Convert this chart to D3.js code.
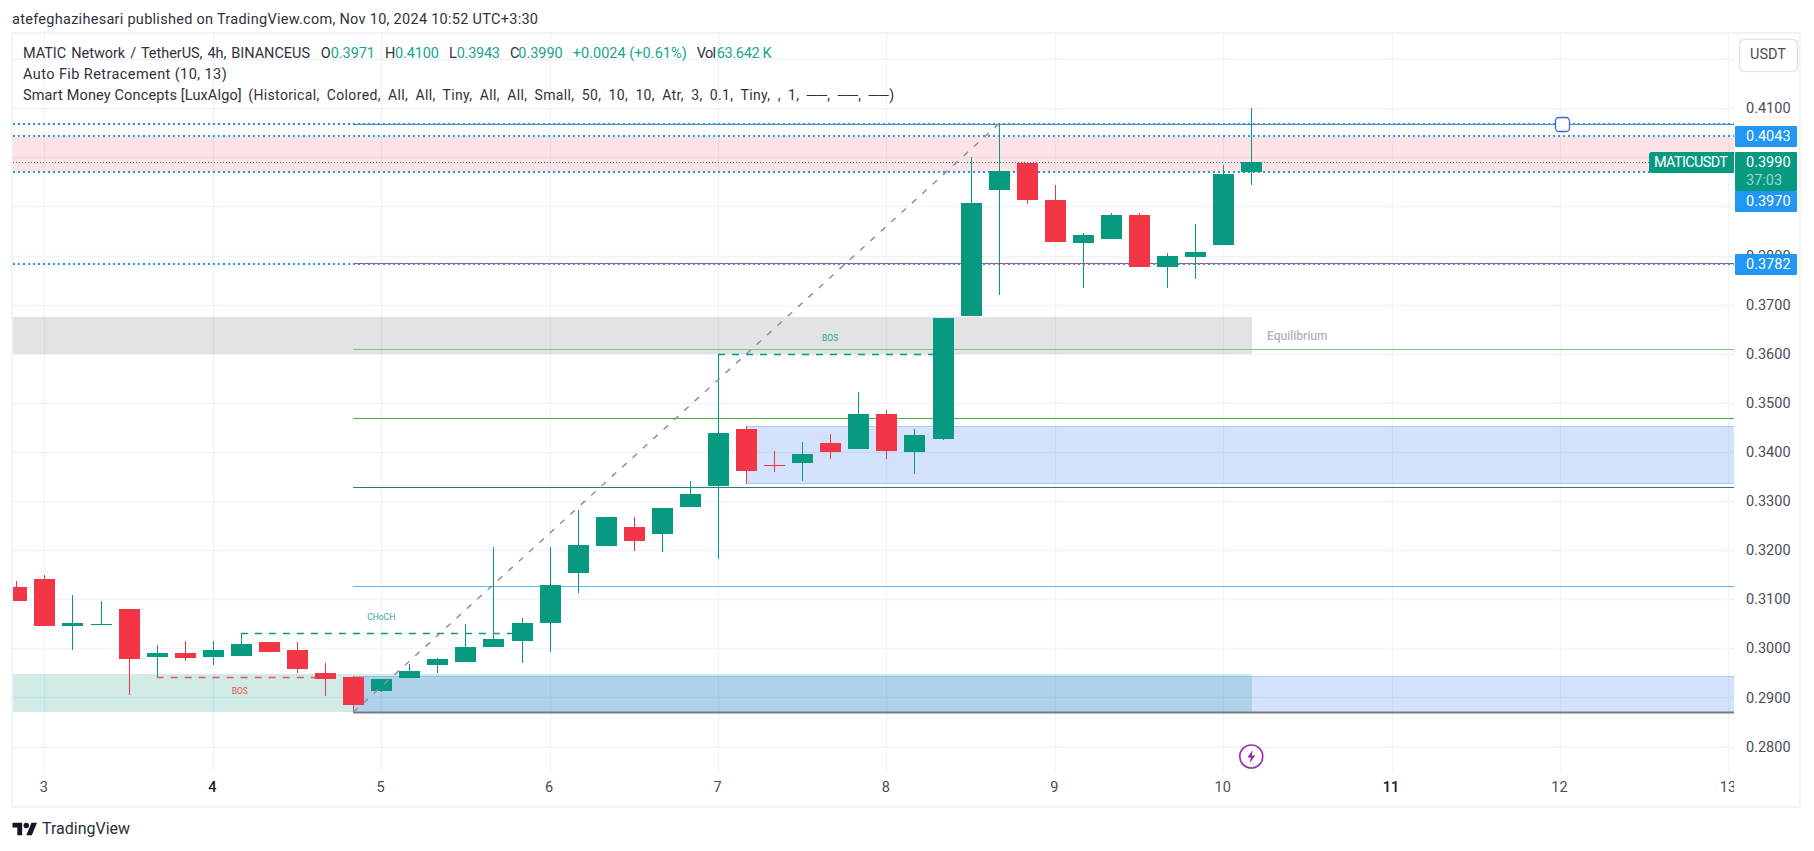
<!DOCTYPE html>
<html><head><meta charset="utf-8">
<script src="https://cdn.jsdelivr.net/npm/d3@7"></script>
<style>
html,body{margin:0;padding:0;background:#fff;overflow:hidden}
svg{display:block}
text{font-family:Roboto,sans-serif}
</style></head><body>
<svg id="c" width="1814" height="851"></svg>
<script>
// ---- DATA ----
const firstCandleDay = 3 - 1/6;
const opens  = [.31249,.31412,.30454,.30474,.30800,.29823,.29904,.29823,.29843,.30128,.29965,.29497,.29415,.29130,.29395,.29660,.29721,.30026,.30148,.30515,.31534,.32084,.32471,.32329,.32879,.33306,.34468,.33740,.33775,.34182,.34060,.34773,.33999,.34264,.36769,.39336,.39886,.39132,.38256,.38337,.38826,.37767,.37971,.38215,.3971];
const closes = [.30963,.30454,.30515,.30495,.29782,.29904,.29802,.29965,.30088,.29924,.29578,.29375,.28845,.29375,.29537,.29782,.30026,.30189,.30515,.31289,.32105,.32675,.32186,.32858,.33144,.34386,.33612,.33715,.33958,.33999,.34773,.34019,.34345,.36728,.39071,.39723,.39132,.38276,.38419,.38826,.37767,.37991,.38073,.39662,.3990];
const highs  = [.31371,.31493,.31086,.30963,.30800,.30067,.30148,.30148,.30305,.30128,.30128,.29700,.29436,.29375,.29680,.29802,.30495,.32063,.30617,.32063,.32817,.32675,.32675,.32858,.33408,.35995,.34529,.34019,.34203,.34366,.35221,.34855,.34468,.36728,.40008,.40680,.39886,.39438,.38460,.38867,.38867,.38052,.38643,.39845,.4100];
const lows   = [.30963,.30454,.29965,.30474,.29048,.29408,.29741,.29660,.29843,.29924,.29497,.29028,.28695,.29110,.29395,.29497,.29721,.30026,.29700,.29924,.31134,.32084,.31982,.31962,.32879,.31819,.33347,.33592,.33408,.33856,.34060,.33856,.33551,.34244,.36769,.37197,.39050,.38276,.37339,.38337,.37767,.37339,.37523,.38215,.3943];

const dayTicks   = [3,4,5,6,7,8,9,10,11,12,13];
const boldDays   = [4,11];
const priceTicks = [.28,.29,.30,.31,.32,.33,.34,.35,.36,.37,.38,.41];
const gridPrices = [.28,.29,.30,.31,.32,.33,.34,.35,.36,.37,.38,.39,.40,.41,.42];

const swingStartDay = 3 + 11/6;
const swingEndDay   = 3 + 34/6;
const swingLow = 0.28695, swingHigh = 0.4068;

const fibPrices  = [0.3609, 0.34685, 0.33279, 0.31263, 0.28695];
const fibTop     = 0.4068;
const lineHigh = 0.4043, lineLow = 0.3970, lineMid = 0.3782, lastPrice = 0.3990;

const zoneSupply  = [0.39702, 0.40415];
const zoneEquil   = [0.36000, 0.36749];
const zoneDemandL = [0.28702, 0.29476];
const zoneOBmid   = [0.33361, 0.34522];
const zoneOBlow   = [0.28695, 0.29436];

const structure = [
  {label:"CHoCH", price:.30305, from:3+7/6,  to:3+17/6, labelDay:5,    bear:false, labelPrice:.30617},
  {label:"BOS",   price:.29408, from:3+4/6,  to:3+10/6, labelDay:4.16, bear:true,  labelPrice:.2911},
  {label:"BOS",   price:.35995, from:3+24/6, to:3+32/6, labelDay:7.665,bear:false, labelPrice:.3630}
];

const captionText = "atefeghazihesari published on TradingView.com, Nov 10, 2024 10:52 UTC+3:30";
const legendTitle = "MATIC Network / TetherUS, 4h, BINANCEUS";
const ohlcLabels  = ["O","H","L","C"];
const ohlcValues  = ["0.3971","0.4100","0.3943","0.3990"];
const changeText  = "+0.0024 (+0.61%)";
const volLabel = "Vol", volText = "63.642 K";
const fibLegend = "Auto Fib Retracement (10, 13)";
const smcName = "Smart Money Concepts [LuxAlgo]";
const smcArgs = "(Historical, Colored, All, All, Tiny, All, All, Small, 50, 10, 10, Atr, 3, 0.1, Tiny, , 1, ──, ──, ──)";

// ---- LAYOUT ----
const GREEN="#089981", RED="#f23645", BLUE="#2196f3", GRID="#f0f3fa", TXT="#2f323c", AX="#4a4d57", VAL="#1ba48c";
const pane={l:13,r:1734,t:34,b:772};
const x=d3.scaleLinear().domain([3,13]).range([44.4,1728.4]);
const y=d3.scaleLinear().domain([.41,.28]).range([108.3,746.5]);
const svg=d3.select("#c");
svg.append("defs").append("clipPath").attr("id","pane").append("rect")
  .attr("x",pane.l).attr("y",pane.t).attr("width",pane.r-pane.l).attr("height",pane.b-pane.t);
svg.select("defs").append("clipPath").attr("id","timeClip").append("rect")
  .attr("x",pane.l).attr("y",pane.b).attr("width",pane.r-pane.l).attr("height",34);

function label(str,x0,x1,yy,fill,size,ws){
  const t=svg.append("text").attr("x",x0).attr("y",yy).attr("dominant-baseline","middle")
    .attr("font-size",size||14).attr("fill",fill).text(str);
  if(ws) t.style("word-spacing",ws+"px");
  if(x1) t.attr("textLength",x1-x0).attr("lengthAdjust","spacing");
  return t;
}

// frame
svg.append("rect").attr("x",12).attr("y",33).attr("width",1788).attr("height",774)
  .attr("fill","#fff").attr("stroke",GRID).attr("stroke-width",2);
label(captionText,12,538,20,TXT,14.5);

const g=svg.append("g").attr("clip-path","url(#pane)");
const hl=(v)=>Math.round(y(v))+.5;

// grid
g.append("g").selectAll("line").data(gridPrices).join("line")
  .attr("x1",pane.l).attr("x2",pane.r).attr("y1",hl).attr("y2",hl).attr("stroke",GRID).attr("stroke-width",1.4);
g.append("g").selectAll("line").data(dayTicks).join("line")
  .attr("x1",d=>Math.round(x(d))+.5).attr("x2",d=>Math.round(x(d))+.5).attr("y1",pane.t).attr("y2",pane.b)
  .attr("stroke",GRID).attr("stroke-width",1.4);

// zones
function zone(dayA,dayB,z,fill,stroke){
  const x0=dayA===null?pane.l:x(dayA), x1=dayB===null?pane.r:x(dayB);
  const r=g.append("rect").attr("x",Math.round(x0)).attr("width",Math.round(x1)-Math.round(x0))
    .attr("y",Math.round(y(z[1]))).attr("height",Math.round(y(z[0]))-Math.round(y(z[1]))).attr("fill",fill);
  if(stroke){r.attr("stroke",stroke).attr("stroke-width",1).attr("x",Math.round(x0)+.5).attr("y",Math.round(y(z[1]))+.5);}
}
const endDay=3+43/6+.006;
const OB="rgba(40,110,240,0.2)", OBE="rgba(40,120,240,0.3)";
zone(null,null,zoneSupply,"rgba(242,54,69,0.14)");
zone(null,endDay,zoneEquil,"rgba(120,123,134,0.21)");
zone(null,endDay,zoneDemandL,"rgba(8,153,129,0.19)");
zone(3+25/6,null,zoneOBmid,OB,OBE);
zone(swingStartDay,null,zoneOBlow,OB,OBE);

// auto-fib solid lines
const fibColors=["#81c784","#4caf50","#22806f","#64b5f6","#787b86"];
const fibWidths=[1,1.2,1.2,1.2,2];
g.append("g").selectAll("line").data(fibPrices).join("line")
  .attr("x1",x(swingStartDay)).attr("x2",pane.r).attr("y1",hl).attr("y2",hl)
  .attr("stroke",(d,i)=>fibColors[i]).attr("stroke-width",(d,i)=>fibWidths[i]);
g.append("line").attr("x1",x(swingStartDay)).attr("x2",pane.r).attr("y1",hl(fibTop)).attr("y2",hl(fibTop)).attr("stroke","#5d7fc4");
g.append("line").attr("x1",x(swingStartDay)).attr("x2",pane.r).attr("y1",hl(lineMid)-1).attr("y2",hl(lineMid)-1).attr("stroke",RED);

// dotted blue lines
const dots=[fibTop,lineHigh,lineLow,lineMid];
g.append("g").selectAll("line").data(dots).join("line")
  .attr("x1",pane.l).attr("x2",pane.r).attr("y1",d=>Math.round(y(d))).attr("y2",d=>Math.round(y(d)))
  .attr("stroke",BLUE).attr("stroke-width",2).attr("stroke-dasharray","2 3");
g.append("line").attr("x1",pane.l).attr("x2",pane.r).attr("y1",hl(lastPrice)).attr("y2",hl(lastPrice))
  .attr("stroke",GREEN).attr("stroke-width",1).attr("stroke-dasharray","1 2");

// structure dashed lines
structure.forEach(s=>{
  const c=s.bear?RED:GREEN;
  g.append("line").attr("x1",x(s.from)).attr("x2",x(s.to)).attr("y1",hl(s.price)).attr("y2",hl(s.price))
    .attr("stroke",c).attr("stroke-width",1.3).attr("stroke-dasharray","7 7").attr("opacity",s.bear?.85:1);
  g.append("text").attr("x",x(s.labelDay)).attr("y",y(s.labelPrice)).attr("text-anchor","middle")
    .attr("dominant-baseline","middle").attr("font-size",8.5).attr("fill",c).attr("opacity",.85).text(s.label);
});
g.append("text").attr("x",1267).attr("y",y(.3635)).attr("dominant-baseline","middle")
  .attr("font-size",12).attr("font-weight",500).attr("fill","#b2b5be").text("Equilibrium");

// candles
const candles=opens.map((o,i)=>({day:firstCandleDay+i/6,o,c:closes[i],h:highs[i],l:lows[i]}));
const cg=g.append("g").selectAll("g").data(candles).join("g")
  .attr("fill",d=>d.c>=d.o?GREEN:RED);
cg.append("rect").attr("x",d=>Math.round(x(d.day))).attr("width",1)
  .attr("y",d=>Math.round(y(d.h))).attr("height",d=>Math.round(y(d.l))-Math.round(y(d.h)));
cg.append("rect").attr("x",d=>Math.round(x(d.day))-10).attr("width",21)
  .attr("y",d=>Math.round(y(Math.max(d.o,d.c))))
  .attr("height",d=>Math.max(1,Math.round(y(Math.min(d.o,d.c)))-Math.round(y(Math.max(d.o,d.c)))));

// fib diagonal
g.append("line").attr("x1",x(swingStartDay)).attr("y1",y(swingLow)).attr("x2",x(swingEndDay)).attr("y2",y(swingHigh))
  .attr("stroke","#8f9199").attr("stroke-width",1.5).attr("stroke-dasharray","6 8");

// handle
g.append("rect").attr("x",Math.round(x(12))-4.5).attr("y",Math.round(y(fibTop))-6.5).attr("width",14).attr("height",14).attr("rx",3.5)
  .attr("fill","#fff").attr("stroke","#3f63d8").attr("stroke-width",1.3);

// lightning marker
const bolt=g.append("g").attr("transform",`translate(${x(3+43/6)},756.5)`);
bolt.append("circle").attr("r",11.5).attr("fill","#fff").attr("stroke","#9c27b0").attr("stroke-width",1.6);
bolt.append("path").attr("d","M1.5,-6.5 L-4,1 L-0.5,1 L-1.5,6.5 L4,-1 L0.5,-1 Z").attr("fill","#9c27b0");

// price axis
const pAxis=d3.axisRight(y).tickValues(priceTicks).tickFormat(d3.format(".4f")).tickSize(0).tickPadding(0);
const pa=svg.append("g").attr("transform","translate(1746,0)").call(pAxis);
pa.select(".domain").remove();
pa.selectAll("text").attr("font-size",14.5).attr("font-family","Roboto").attr("fill",AX);

// time axis
const tAxis=d3.axisBottom(x).tickValues(dayTicks).tickFormat(d3.format("d")).tickSize(0).tickPadding(0);
const ta=svg.append("g").attr("clip-path","url(#timeClip)").append("g").attr("transform","translate(-1,782)").call(tAxis);
ta.select(".domain").remove();
ta.selectAll("text").attr("font-size",14.5).attr("font-family","Roboto")
  .attr("fill",d=>boldDays.includes(d)?"#131722":AX).attr("font-weight",d=>boldDays.includes(d)?500:400);

// price tags
function tag(p,y0,y1,fill,yy){
  svg.append("rect").attr("x",1735).attr("y",y0).attr("width",62).attr("height",y1-y0).attr("rx",1).attr("fill",fill);
  svg.append("text").attr("x",1746).attr("y",yy||(y0+y1)/2+.5).attr("dominant-baseline","middle")
    .attr("font-size",14.5).attr("fill","#fff").text(d3.format(".4f")(p));
}
tag(lineHigh,126,147,BLUE);
tag(lastPrice,152,191,GREEN,163);
svg.append("text").attr("x",1746).attr("y",181).attr("dominant-baseline","middle").attr("font-size",14.5)
  .attr("fill","#fff").attr("fill-opacity",.6).text("37:03");
tag(lineLow,191,212,BLUE);
tag(lineMid,254,275,BLUE);
svg.append("path").attr("d","M1734,152 H1652 a3,3 0 0 0 -3,3 V170 a3,3 0 0 0 3,3 H1734 Z").attr("fill",GREEN);
label("MATICUSDT",1654,1728,163,"#fff",14.5);

// currency button
svg.append("rect").attr("x",1739.5).attr("y",39.5).attr("width",58).attr("height",32).attr("rx",5)
  .attr("fill","#fff").attr("stroke","#e0e3eb").attr("stroke-width",1.5);
svg.append("text").attr("x",1768).attr("y",55.5).attr("text-anchor","middle").attr("dominant-baseline","middle")
  .attr("font-size",14.5).attr("fill",AX).text("USDT");

// legend
const L1=54, L2=75, L3=96;
label(legendTitle,23,310,L1,TXT,14.5,1.5);
const ohlcSlots=[[320.7,330.7,375],[385,395,439],[449,456.7,500],[510,518.3,562.7]];
ohlcLabels.forEach((s,i)=>{
  label(s,ohlcSlots[i][0],null,L1,TXT,14.5);
  label(ohlcValues[i],ohlcSlots[i][1],ohlcSlots[i][2],L1,VAL,14.5);
});
label(changeText,572.7,686.7,L1,VAL,14.5);
label(volLabel,696.7,716,L1,TXT,14.5);
label(volText,716.7,771.7,L1,VAL,14.5);
label(fibLegend,23,226.7,L2,TXT,14.5);
label(smcName,23,241.7,L3,TXT,14.5);
label(smcArgs,248.3,894,L3,TXT,14,3.5);

// footer logo
const lg=svg.append("g").attr("transform","translate(12.5,820) scale(.69)").attr("fill","#131722");
lg.append("path").attr("d","M14 22H7V11H0V4h14v18zM28 22h-8l7.5-18h8L28 22z");
lg.append("circle").attr("cx",20).attr("cy",8).attr("r",4);
svg.append("text").attr("x",42).attr("y",830).attr("dominant-baseline","middle").attr("font-size",16)
  .attr("fill","#2a2e39").text("TradingView");
</script>
</body></html>
